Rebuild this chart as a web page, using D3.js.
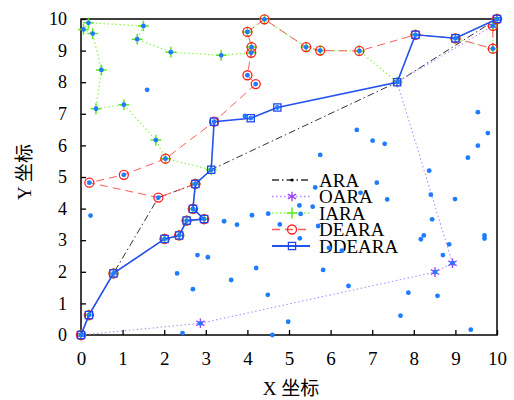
<!DOCTYPE html>
<html>
<head>
<meta charset="utf-8">
<script src="https://cdn.jsdelivr.net/npm/d3@7"></script>
<style>
  body { margin: 0; background: #fff; }
  text { font-family: "Liberation Serif", "Noto Sans CJK SC", serif; fill: #000; }
</style>
</head>
<body>
<svg id="chart" width="514" height="400"></svg>
<script>
// ---- layout
const W = 514, H = 400,
  plotLeft = 81, plotRight = 497, plotTop = 19, plotBottom = 335;

// ---- data
const xTicks = [0, 1, 2, 3, 4, 5, 6, 7, 8, 9, 10];
const yTicks = [0, 1, 2, 3, 4, 5, 6, 7, 8, 9, 10];
const xLabel = "X 坐标", yLabel = "Y 坐标";
const seriesNames = ["ARA", "OARA", "IARA", "DEARA", "DDEARA"];

const araPts = [[0,0],[0.19,0.63],[0.78,1.95],[1.86,4.35],[2.75,4.78],[3.13,5.23],[7.6,8.0],[10,10]];
const oaraPts = [[0,0],[2.87,0.37],[8.51,1.99],[8.93,2.27],[7.6,8.0],[9.9,9.78],[10,10]];
const iaraPts = [[0,0],[0.19,0.63],[0.78,1.95],[2.01,3.04],[2.36,3.15],[2.54,3.62],[2.96,3.67],[2.69,3.99],
  [2.75,4.78],[3.13,5.23],[2.03,5.58],[1.8,6.17],[1.03,7.29],[0.36,7.16],[0.49,8.39],[0.28,9.54],[0.06,9.67],
  [0.18,9.88],[1.5,9.78],[1.35,9.36],[2.16,8.95],[3.37,8.85],[4.09,8.93],[4.1,9.11],[4.0,9.59],[4.41,9.99],
  [5.41,9.11],[5.75,9.0],[6.69,8.99],[7.6,8.0],[8.04,9.5],[9.0,9.39],[9.9,9.06],[9.9,9.78],[10,10]];
const dearaPts = [[0,0],[0.19,0.63],[0.78,1.95],[2.01,3.04],[2.36,3.15],[2.54,3.62],[2.96,3.67],[2.69,3.99],
  [2.75,4.78],[1.86,4.35],[0.2,4.82],[1.03,5.07],[2.03,5.58],[3.2,6.75],[4.2,7.94],[4.0,8.22],[4.09,8.93],
  [4.1,9.11],[4.0,9.59],[4.41,9.99],[5.41,9.11],[5.75,9.0],[6.69,8.99],[8.04,9.5],[9.0,9.39],[9.9,9.06],
  [9.9,9.78],[10,10]];
const ddearaPts = [[0,0],[0.19,0.63],[0.78,1.95],[2.01,3.04],[2.36,3.15],[2.54,3.62],[2.96,3.67],[2.69,3.99],
  [2.75,4.78],[3.13,5.23],[3.2,6.75],[4.08,6.86],[4.72,7.2],[7.6,8.0],[8.04,9.5],[9.0,9.39],[10,10]];
// extra scattered nodes (not on any route)
const extraPts = [[1.59,7.76],[0.23,3.78],[2.44,0.06],[2.8,2.53],[3.05,2.46],[2.31,1.95],[2.69,1.45],
  [3.44,3.6],[3.75,3.49],[4.11,3.79],[4.5,3.84],[4.78,3.5],[4.21,2.12],[3.61,1.74],[4.49,1.27],[4.98,0.42],
  [4.6,0.0],[5.25,4.1],[5.57,4.06],[5.26,3.06],[5.82,2.06],[5.63,4.67],[7.11,4.82],[6.72,4.5],[7.36,4.29],
  [5.28,3.83],[5.7,3.45],[5.96,2.76],[6.27,2.67],[6.43,1.55],[7.87,1.34],[7.68,0.61],[8.57,1.24],[9.37,0.17],
  [8.41,4.44],[8.99,4.3],[8.44,3.66],[8.17,3.03],[8.24,3.15],[8.85,2.87],[8.7,2.53],[9.7,3.15],[9.7,3.05],
  [9.54,7.05],[9.78,6.39],[9.54,5.99],[9.3,5.61],[6.63,6.49],[7.01,6.15],[7.3,6.05],[5.75,5.7],[8.37,5.2],
  [3.94,6.93]];

// ---- scales
const x = d3.scaleLinear([0, 10], [plotLeft, plotRight]);
const y = d3.scaleLinear([0, 10], [plotBottom, plotTop]);
const line = d3.line().x(d => x(d[0])).y(d => y(d[1]));

const svg = d3.select("#chart");

// ---- axes (ticks point inward)
svg.append("g")
  .attr("transform", "translate(0," + plotBottom + ")")
  .call(d3.axisBottom(x).tickValues(xTicks).tickSize(-5).tickSizeOuter(0))
  .call(g => g.select(".domain").remove())
  .call(g => g.selectAll("line").attr("stroke", "#000").attr("stroke-width", 1.3))
  .call(g => g.selectAll("text").attr("y", 24).attr("dy", "0.32em").attr("font-size", 19));

svg.append("g")
  .attr("transform", "translate(" + plotLeft + ",0)")
  .call(d3.axisLeft(y).tickValues(yTicks).tickSize(-5).tickSizeOuter(0).tickPadding(14))
  .call(g => g.select(".domain").remove())
  .call(g => g.selectAll("line").attr("stroke", "#000").attr("stroke-width", 1.3))
  .call(g => g.selectAll("text").attr("font-size", 18));

svg.append("rect")
  .attr("x", plotLeft).attr("y", plotTop)
  .attr("width", plotRight - plotLeft).attr("height", plotBottom - plotTop)
  .attr("fill", "none").attr("stroke", "#000").attr("stroke-width", 1.5);

svg.append("text").text(xLabel)
  .attr("x", 291).attr("y", 395)
  .attr("text-anchor", "middle").attr("font-size", 19);

svg.append("text").text(yLabel)
  .attr("transform", "translate(31,172) rotate(-90)")
  .attr("text-anchor", "middle").attr("font-size", 19);

// ---- series styles
const styles = {
  ARA:    { pts: araPts,    color: "#333", width: 1,   dash: "7,3,1.5,3", marker: "dot" },
  OARA:   { pts: oaraPts,   color: "#b58cff", width: 1.1, dash: "1.5,2.5", marker: "star" },
  IARA:   { pts: iaraPts,   color: "#8cf550", width: 1.2, dash: "1.5,2.5", marker: "plus" },
  DEARA:  { pts: dearaPts,  color: "#ff5a5a", width: 1,   dash: "8,5", marker: "circle" },
  DDEARA: { pts: ddearaPts, color: "#2451f2", width: 1.6, dash: null, marker: "square" }
};

function drawMarker(g, type, cx, cy) {
  if (type === "dot") {
    g.append("circle").attr("cx", cx).attr("cy", cy).attr("r", 1.6).attr("fill", "#000");
  } else if (type === "star") {
    g.append("path").attr("transform", "translate(" + cx + "," + cy + ")")
      .attr("d", d3.symbol(d3.symbolAsterisk, 64)())
      .attr("fill", "none").attr("stroke", "#9b45ff").attr("stroke-width", 1.4);
  } else if (type === "plus") {
    g.append("path").attr("transform", "translate(" + cx + "," + cy + ")")
      .attr("d", d3.symbol(d3.symbolPlus, 40)())
      .attr("fill", "none").attr("stroke", "#5fe81a").attr("stroke-width", 1.5);
  } else if (type === "circle") {
    g.append("circle").attr("cx", cx).attr("cy", cy).attr("r", 4.5)
      .attr("fill", "none").attr("stroke", "#ff1f1f").attr("stroke-width", 1.3);
  } else if (type === "square") {
    g.append("rect").attr("x", cx - 3.6).attr("y", cy - 3.6).attr("width", 7.2).attr("height", 7.2)
      .attr("fill", "none").attr("stroke", "#1e46f0").attr("stroke-width", 1.3);
  }
}

seriesNames.forEach(name => {
  const s = styles[name];
  const g = svg.append("g");
  g.append("path").datum(s.pts)
    .attr("d", line)
    .attr("fill", "none")
    .attr("stroke", s.color)
    .attr("stroke-width", s.width)
    .attr("stroke-dasharray", s.dash);
  s.pts.forEach(p => drawMarker(g, s.marker, x(p[0]), y(p[1])));
});

// ---- legend
const legend = svg.append("g");
seriesNames.forEach((name, i) => {
  const s = styles[name];
  const ly = 180 + i * 16.5;
  legend.append("line")
    .attr("x1", 272).attr("x2", 310).attr("y1", ly).attr("y2", ly)
    .attr("stroke", s.color).attr("stroke-width", s.width + 0.3)
    .attr("stroke-dasharray", s.dash);
  drawMarker(legend, s.marker, 292, ly);
  legend.append("text").text(name)
    .attr("x", 319).attr("y", ly).attr("dy", "0.35em")
    .attr("font-size", 19);
});

// ---- all nodes as blue dots (route nodes + extra)
const nodeMap = new Map();
[araPts, oaraPts, iaraPts, dearaPts, ddearaPts, extraPts].forEach(arr =>
  arr.forEach(p => nodeMap.set(p[0] + "," + p[1], p)));

svg.append("g")
  .selectAll("circle")
  .data(Array.from(nodeMap.values()))
  .join("circle")
  .attr("cx", d => x(d[0]))
  .attr("cy", d => y(d[1]))
  .attr("r", 2.4)
  .attr("fill", "#1f7bff");
</script>
</body>
</html>
